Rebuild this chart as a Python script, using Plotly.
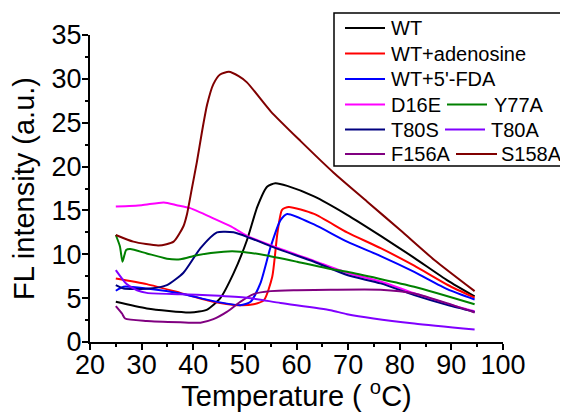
import plotly.graph_objects as go

WT_T = [25, 31, 39.4, 42.7, 45.2, 47.8, 50.4, 52.4, 54.3, 55.9, 58.2, 63.4, 69.8, 76.3, 82.8, 89.3, 94.5]
WT_V = [4.58, 3.82, 3.36, 3.7, 4.96, 7.82, 11.6, 15.4, 17.7, 18.1, 17.8, 16.6, 14.5, 12.1, 9.6, 7.0, 5.2]

ADE_T = [25, 31, 37.5, 43.9, 48.5, 51.7, 53.7, 55.3, 56.3, 57.2, 58.5, 63.4, 69.8, 76.3, 82.8, 89.3, 94.5]
ADE_V = [7.25, 6.6, 5.6, 4.58, 4.2, 4.3, 4.77, 7.44, 12.4, 15.07, 15.4, 14.6, 12.5, 10.7, 8.7, 6.5, 5.05]

FDA_T = [25, 26.5, 31, 37.5, 43.9, 49.1, 51.1, 53, 55, 56.9, 58.2, 63.4, 69.8, 76.3, 82.8, 89.3, 94.5]
FDA_V = [5.84, 6.3, 6.1, 5.54, 4.66, 4.2, 4.58, 6.68, 10.87, 13.9, 14.6, 13.4, 11.44, 9.8, 8.0, 6.0, 4.85]

D16E_T = [25, 30, 34.3, 36.8, 39.4, 43.9, 47.2, 50.4, 56.9, 63.4, 69.8, 76.3, 82.8, 89.3, 94.5]
D16E_V = [15.45, 15.6, 15.9, 15.6, 15.26, 14.1, 13.2, 12.1, 10.6, 9.25, 7.9, 6.9, 5.55, 4.35, 3.5]

Y77A_T = [25, 25.8, 26.3, 27.0, 27.8, 31, 34.9, 37.5, 40.7, 45.9, 49.1, 53.7, 60.1, 66.6, 69.8, 82.8, 94.5]
Y77A_V = [12.2, 10.9, 9.15, 10.5, 10.6, 10.1, 9.5, 9.43, 9.9, 10.3, 10.3, 9.92, 9.15, 8.32, 8.0, 6.3, 4.3]

T80S_T = [25, 26.5, 31.6, 34.9, 38.1, 41.4, 44.6, 47.8, 51.1, 56.9, 63.4, 69.8, 76.3, 82.8, 89.3, 94.5]
T80S_V = [6.49, 6.1, 6.1, 6.49, 7.9, 10.7, 12.5, 12.5, 11.83, 10.5, 9.15, 7.63, 6.68, 5.34, 4.2, 3.43]

T80A_T = [25, 27.1, 29.1, 31, 37.5, 43.9, 50.4, 56.9, 66.6, 69.8, 82.8, 94.5]
T80A_V = [8.2, 6.6, 5.9, 5.6, 5.45, 5.3, 5.05, 4.45, 3.63, 3.17, 2.1, 1.42]

F156A_T = [25, 26.2, 26.8, 31, 37.5, 41.4, 43.9, 46.5, 49.1, 51.7, 55, 60.1, 66.6, 76.3, 82.8, 89.3, 94.5]
F156A_V = [4.1, 3.25, 2.68, 2.4, 2.25, 2.2, 2.6, 3.43, 4.58, 5.46, 5.8, 5.9, 5.95, 5.95, 5.53, 4.4, 3.36]

S158A_T = [25, 28.4, 33.3, 36.2, 38.1, 38.8, 39.7, 40.7, 41.7, 42.7, 43.9, 45.2, 46.9, 48.8, 50.4, 55, 60.8, 67.2, 73.7, 80.2, 86.7, 94.5]
S158A_V = [12.2, 11.44, 11.0, 11.44, 13.2, 14.6, 17.4, 20.5, 24.0, 27.1, 29.4, 30.5, 30.8, 30.3, 29.6, 26.3, 22.9, 19.3, 16.0, 12.7, 9.35, 5.8]

NAMES = ["WT", "WT+adenosine", "WT+5'-FDA", "D16E", "T80S", "F156A", "Y77A", "T80A", "S158A"]
COLORS = ["#000000", "#FF0000", "#0000FF", "#FF00FF", "#000080", "#800080", "#008000", "#8000FF", "#800000"]
SERIES = [(WT_T, WT_V), (ADE_T, ADE_V), (FDA_T, FDA_V), (D16E_T, D16E_V), (T80S_T, T80S_V),
          (F156A_T, F156A_V), (Y77A_T, Y77A_V), (T80A_T, T80A_V), (S158A_T, S158A_V)]

FONT = "Arial, Liberation Sans, sans-serif"

# page geometry: the page body adds an 8px offset, so the figure is 8px smaller
OFF = 8
W, H = 568 - OFF, 412 - OFF
# plot area in window pixels
L, R, T, B = 90, 503, 35, 342


def px_x(x):
    return (x - L) / (R - L)


def px_y(y):
    return (B - y) / (B - T)


fig = go.Figure()
for name, color, (t, v) in zip(NAMES, COLORS, SERIES):
    fig.add_trace(go.Scatter(
        x=t, y=v, name=name, mode="lines", showlegend=False,
        line=dict(color=color, width=2, shape="spline", smoothing=0.6),
    ))

axis_common = dict(
    showline=True, linecolor="black", linewidth=2,
    ticks="outside", ticklen=6, tickwidth=2, tickcolor="black",
    showgrid=False, zeroline=False, mirror=False,
    tickfont=dict(family=FONT, size=27, color="black"),
)

fig.update_xaxes(
    range=[20, 100], dtick=10, tick0=20,
    minor=dict(dtick=5, ticklen=3, tickwidth=2, tickcolor="black", ticks="outside", showgrid=False),
    title=dict(text="Temperature ( <sup>o</sup>C)", font=dict(family=FONT, size=29, color="black"), standoff=0),
    ticklabelstandoff=-8,
    **axis_common,
)
fig.update_yaxes(
    range=[0, 35], dtick=5, tick0=0,
    minor=dict(dtick=2.5, ticklen=3, tickwidth=2, tickcolor="black", ticks="outside", showgrid=False),
    title=dict(text="FL intensity (a.u.)", font=dict(family=FONT, size=29, color="black"), standoff=13),
    ticklabelstandoff=-5,
    **axis_common,
)

# manual legend (window pixels: line start, line end, text start, row centre)
LEG_LINE_X0 = [345, 345, 345, 345, 345, 345, 447, 445, 456]
LEG_LINE_X1 = [385, 385, 385, 385, 385, 385, 487, 485, 497]
LEG_TEXT_X = [391, 391, 391, 391, 391, 391, 494, 491, 501]
LEG_ROW_Y = [28, 53.5, 79, 104.5, 129.5, 154, 104.5, 129.5, 154]

shapes = [dict(type="rect", xref="paper", yref="paper",
               x0=px_x(334), x1=px_x(575), y0=px_y(166), y1=px_y(13),
               line=dict(color="black", width=1.5), fillcolor="white", layer="above")]
annotations = []
for name, color, x0, x1, tx, ry in zip(NAMES, COLORS, LEG_LINE_X0, LEG_LINE_X1, LEG_TEXT_X, LEG_ROW_Y):
    shapes.append(dict(type="line", xref="paper", yref="paper",
                       x0=px_x(x0), x1=px_x(x1), y0=px_y(ry), y1=px_y(ry),
                       line=dict(color=color, width=2), layer="above"))
    annotations.append(dict(text=name, xref="paper", yref="paper", x=px_x(tx), y=px_y(ry),
                            xanchor="left", yanchor="middle", showarrow=False,
                            font=dict(family=FONT, size=20, color="black"),
                            borderpad=0, borderwidth=0))

fig.update_layout(
    width=W, height=H,
    margin=dict(l=L - OFF, r=W - (R - OFF), t=T - OFF, b=H - (B - OFF), autoexpand=False),
    paper_bgcolor="white", plot_bgcolor="white",
    showlegend=False,
    shapes=shapes,
    annotations=annotations,
)

fig.write_html("out.html")
